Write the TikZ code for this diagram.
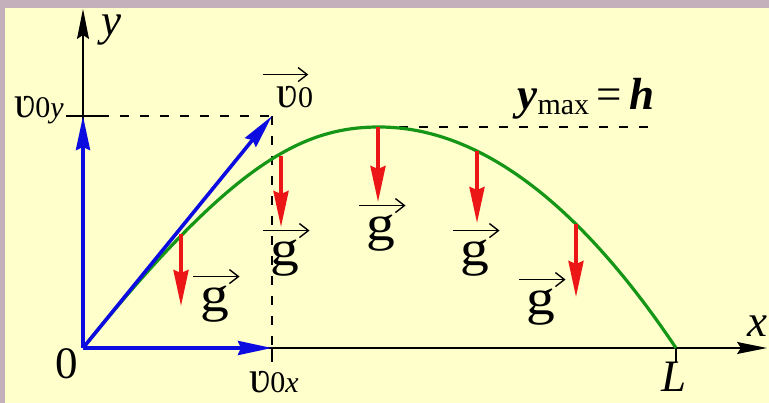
\documentclass[tikz,border=0pt]{standalone}
\usepackage{fontspec}
\setmainfont{Liberation Serif}
\usetikzlibrary{arrows.meta,calc}
\definecolor{cream}{RGB}{255,255,204}
\definecolor{framecol}{RGB}{196,176,186}
\definecolor{vblue}{RGB}{12,12,225}
\definecolor{gred}{RGB}{236,22,22}
\definecolor{pgreen}{RGB}{22,150,22}
\newcommand\subs[1]{{\fontsize{30}{32}\selectfont #1}}
\newcommand\gee{\scalebox{1.15}[1]{g}}
\begin{document}
\begin{tikzpicture}[x=1pt,y=-1pt,
  lbl/.style={inner sep=0pt, font=\fontsize{45}{50}\selectfont},
  glbl/.style={inner sep=0pt, font=\fontsize{50}{55}\selectfont},
  axisline/.style={black, line width=1.3pt, -{Stealth[length=30pt,width=12pt,inset=4pt]}},
  vecarrow/.style={vblue, line width=3.6pt, -{Stealth[length=34pt,width=14pt,inset=3pt]}},
  gravarrow/.style={gred, line width=3.6pt, -{Stealth[length=36pt,width=15pt,inset=3pt]}},
  guide/.style={black, line width=1.2pt, dash pattern=on 9pt off 11pt},
  tickline/.style={black, line width=1.3pt},
  curve/.style={pgreen, line width=3.2pt},
  overarrow/.style={black, line width=1.4pt, -{Straight Barb[length=9pt,width=14pt]}}]
\useasboundingbox (0,0) rectangle (769,403);
\fill[framecol] (0,0) rectangle (769,403);
\fill[cream] (5,8) rectangle (769,403);

% key points
\coordinate (O) at (83,348);
\coordinate (Ytop) at (83,9);
\coordinate (Xend) at (767,348);
\coordinate (V) at (272,116);
\coordinate (Vy) at (83,116);
\coordinate (Vx) at (272,348);
\coordinate (L) at (676,348);
\coordinate (P) at (379,127);
\coordinate (VyL) at (66,116);
\coordinate (VyR) at (100,116);
\coordinate (VxB) at (272,362);
\coordinate (LB) at (676,362);
\coordinate (Hend) at (652,127);

% guides
\draw[tickline] (VyL) -- (VyR);
\draw[guide] (VyR) -- (V);
\draw[guide] (V) -- (Vx);
\draw[tickline] (Vx) -- (VxB);
\draw[tickline] (L) -- (LB);
\draw[guide] (P) -- (Hend);

% axes
\draw[axisline] (O) -- (Ytop);
\draw[axisline] (O) -- (Xend);

% trajectory
\draw[curve] (O) .. controls (230,166) and (300,127) .. (P)
                 .. controls (477.8,127) and (577.2,200.7) .. (L);

% velocity components
\draw[vecarrow] (O) -- (Vy);
\draw[vecarrow] (O) -- (Vx);
\draw[vecarrow] (O) -- (V);

% gravity arrows
\coordinate (G1a) at (181,234); \coordinate (G1b) at (181,306);
\coordinate (G2a) at (281,156); \coordinate (G2b) at (281,227);
\coordinate (G3a) at (378,127); \coordinate (G3b) at (378,202);
\coordinate (G4a) at (477,151); \coordinate (G4b) at (477,223);
\coordinate (G5a) at (576,224); \coordinate (G5b) at (576,297);
\foreach \i in {1,...,5} {\draw[gravarrow] (G\i a) -- (G\i b);}

% g labels
\node[glbl] (g1) at (215,304) {\gee};
\node[glbl] (g2) at (285,258) {\gee};
\node[glbl] (g3) at (381,233) {\gee};
\node[glbl] (g4) at (475,258) {\gee};
\node[glbl] (g5) at (541,307) {\gee};
\foreach \i in {1,...,5} {
  \draw[overarrow] ($(g\i.north west)+(-7,-9)$) -- ($(g\i.north east)+(10,-9)$);
}

% text labels
\node[lbl, anchor=base] (ylab) at (111,36) {\textit{y}};
\node[lbl, anchor=base] (xlab) at (757,337) {\textit{x}};
\node[lbl, anchor=base] (zero) at (67,379) {0};
\node[lbl, anchor=base] (Llab) at (674,392) {\textit{L}};
\node[lbl, anchor=base] (v0) at (295,108) {ʋ\subs{0}};
\draw[overarrow] ($(v0.north west)+(-14,-12)$) -- ($(v0.north east)+(-5,-12)$);
\node[lbl, anchor=base east] (v0y) at (64,118) {ʋ\subs{0\textit{y}}};
\node[lbl, anchor=base] (v0x) at (274,393) {ʋ\subs{0\textit{x}}};
\node[lbl, anchor=base] (ymax) at (586,110) {\textbf{\textit{y}}\raisebox{-5pt}{\subs{max}}\,=\,\textbf{\textit{h}}};
\end{tikzpicture}
\end{document}
